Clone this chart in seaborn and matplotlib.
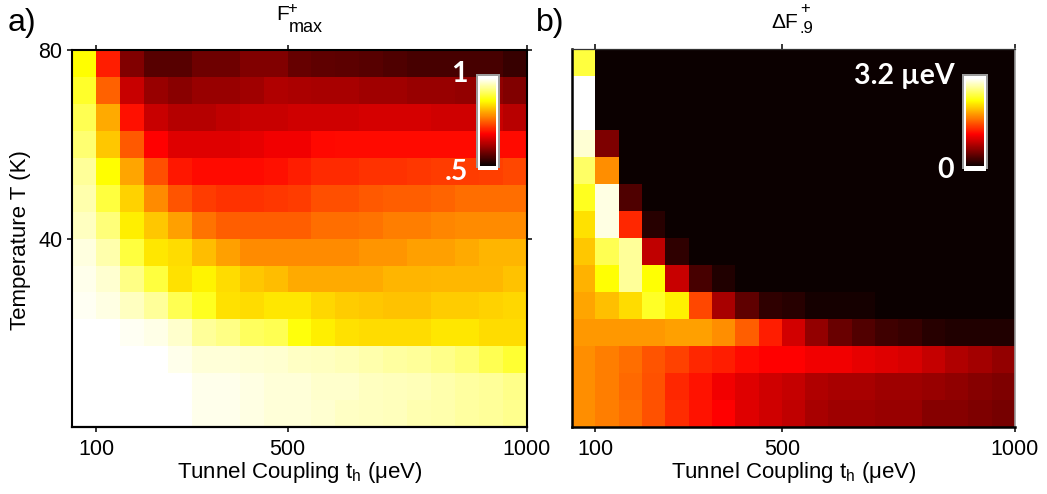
import numpy as np
import pandas as pd
import matplotlib
matplotlib.use("Agg")
import matplotlib.pyplot as plt
import seaborn as sns

# ---------------- data ----------------
coupling = [75, 125, 175, 225, 275, 325, 375, 425, 475, 525,
            575, 625, 675, 725, 775, 825, 875, 925, 975]          # t_h (ueV), cell centres
temperature = [77.1, 71.4, 65.7, 60.0, 54.3, 48.6, 42.9,
               37.1, 31.4, 25.7, 20.0, 14.3, 8.6, 2.9]             # T (K), cell centres
x_ticks = [100, 500, 1000]
y_ticks = [80, 40]

F_max = [
 [0.873, 0.705, 0.588, 0.558, 0.558, 0.576, 0.576, 0.588, 0.588, 0.570, 0.564, 0.561, 0.558, 0.552, 0.546, 0.546, 0.546, 0.546, 0.534],
 [0.893, 0.754, 0.642, 0.606, 0.594, 0.606, 0.606, 0.612, 0.624, 0.621, 0.618, 0.618, 0.612, 0.612, 0.606, 0.606, 0.603, 0.600, 0.588],
 [0.913, 0.809, 0.695, 0.642, 0.627, 0.627, 0.636, 0.642, 0.642, 0.648, 0.648, 0.648, 0.651, 0.651, 0.651, 0.648, 0.648, 0.642, 0.630],
 [0.928, 0.831, 0.749, 0.683, 0.660, 0.660, 0.660, 0.666, 0.672, 0.672, 0.688, 0.690, 0.690, 0.690, 0.690, 0.690, 0.690, 0.690, 0.690],
 [0.948, 0.873, 0.806, 0.742, 0.700, 0.690, 0.690, 0.690, 0.695, 0.705, 0.713, 0.713, 0.720, 0.720, 0.723, 0.727, 0.727, 0.730, 0.735],
 [0.958, 0.903, 0.839, 0.787, 0.746, 0.727, 0.720, 0.720, 0.723, 0.727, 0.742, 0.742, 0.749, 0.753, 0.753, 0.757, 0.764, 0.764, 0.764],
 [0.968, 0.933, 0.861, 0.831, 0.802, 0.768, 0.753, 0.753, 0.753, 0.753, 0.764, 0.764, 0.768, 0.776, 0.776, 0.783, 0.787, 0.787, 0.787],
 [0.983, 0.958, 0.903, 0.854, 0.846, 0.824, 0.802, 0.787, 0.787, 0.787, 0.787, 0.787, 0.794, 0.794, 0.802, 0.802, 0.809, 0.817, 0.817],
 [0.990, 0.975, 0.938, 0.903, 0.850, 0.865, 0.846, 0.831, 0.824, 0.809, 0.809, 0.809, 0.809, 0.817, 0.817, 0.820, 0.820, 0.820, 0.828],
 [0.993, 0.985, 0.968, 0.948, 0.913, 0.888, 0.850, 0.846, 0.854, 0.854, 0.843, 0.835, 0.831, 0.828, 0.828, 0.835, 0.835, 0.838, 0.843],
 [1.000, 1.000, 0.993, 0.988, 0.973, 0.948, 0.938, 0.918, 0.913, 0.878, 0.861, 0.850, 0.846, 0.846, 0.846, 0.854, 0.854, 0.846, 0.846],
 [1.000, 1.000, 1.000, 1.000, 0.990, 0.980, 0.980, 0.978, 0.975, 0.970, 0.968, 0.963, 0.958, 0.953, 0.948, 0.940, 0.930, 0.913, 0.898],
 [1.000, 1.000, 1.000, 1.000, 1.000, 0.990, 0.990, 0.985, 0.980, 0.980, 0.973, 0.973, 0.968, 0.965, 0.963, 0.958, 0.953, 0.948, 0.940],
 [1.000, 1.000, 1.000, 1.000, 1.000, 0.990, 0.990, 0.985, 0.980, 0.980, 0.975, 0.970, 0.968, 0.965, 0.960, 0.958, 0.953, 0.948, 0.943],
]

dF_09 = [
 [2.58, 0, 0, 0, 0, 0, 0, 0, 0, 0, 0, 0, 0, 0, 0, 0, 0, 0, 0],
 [3.20, 0, 0, 0, 0, 0, 0, 0, 0, 0, 0, 0, 0, 0, 0, 0, 0, 0, 0],
 [3.20, 0, 0, 0, 0, 0, 0, 0, 0, 0, 0, 0, 0, 0, 0, 0, 0, 0, 0],
 [3.06, 0.56, 0, 0, 0, 0, 0, 0, 0, 0, 0, 0, 0, 0, 0, 0, 0, 0, 0],
 [2.71, 1.84, 0, 0, 0, 0, 0, 0, 0, 0, 0, 0, 0, 0, 0, 0, 0, 0, 0],
 [2.48, 3.10, 0.33, 0, 0, 0, 0, 0, 0, 0, 0, 0, 0, 0, 0, 0, 0, 0, 0],
 [2.24, 3.10, 1.36, 0.14, 0, 0, 0, 0, 0, 0, 0, 0, 0, 0, 0, 0, 0, 0, 0],
 [2.12, 2.65, 2.87, 0.87, 0.18, 0, 0, 0, 0, 0, 0, 0, 0, 0, 0, 0, 0, 0, 0],
 [2.02, 2.39, 2.87, 2.39, 0.91, 0.29, 0.10, 0, 0, 0, 0, 0, 0, 0, 0, 0, 0, 0, 0],
 [1.96, 2.08, 2.22, 2.51, 2.32, 1.50, 0.75, 0.41, 0.18, 0.14, 0.06, 0.06, 0.06, 0, 0, 0, 0, 0, 0],
 [1.89, 1.89, 1.89, 1.89, 1.93, 1.93, 1.84, 1.62, 1.31, 0.96, 0.66, 0.45, 0.35, 0.26, 0.22, 0.14, 0.10, 0.10, 0.10],
 [1.84, 1.77, 1.69, 1.57, 1.48, 1.36, 1.31, 1.22, 1.17, 1.17, 1.10, 1.10, 1.06, 1.02, 0.98, 0.89, 0.79, 0.73, 0.66],
 [1.84, 1.77, 1.67, 1.55, 1.36, 1.26, 1.10, 1.02, 0.94, 0.89, 0.79, 0.75, 0.75, 0.71, 0.71, 0.68, 0.64, 0.60, 0.56],
 [1.84, 1.77, 1.69, 1.55, 1.38, 1.26, 1.17, 1.02, 0.94, 0.87, 0.75, 0.71, 0.71, 0.68, 0.68, 0.60, 0.60, 0.56, 0.52],
]

# ---------------- style ----------------
sns.set_style("white")
plt.rcParams["font.family"] = ["Liberation Sans", "DejaVu Sans"]
plt.rcParams["mathtext.fontset"] = "custom"
plt.rcParams["mathtext.rm"] = "Liberation Sans"
plt.rcParams["mathtext.it"] = "Liberation Sans:italic"
plt.rcParams["mathtext.bf"] = "Liberation Sans:bold"
for key in ["text.color", "axes.labelcolor", "xtick.color", "ytick.color"]:
    plt.rcParams[key] = "black"

W, H = 1047, 494
fig = plt.figure(figsize=(W / 100, H / 100), dpi=100)


def rect(x0, y0, x1, y1):
    return [x0 / W, 1 - y1 / H, (x1 - x0) / W, (y1 - y0) / H]


def ftext(x, y, s, **kw):
    return fig.text(x / W, 1 - y / H, s, **kw)


def x_pos(v):
    step = coupling[1] - coupling[0]
    return (v - coupling[0]) / step + 0.5


def y_pos(v):
    step = temperature[0] - temperature[1]
    return (temperature[0] - v) / step + 0.5


def make_cbar_axes(x0, y0, x1, y1):
    frame = fig.add_axes(rect(x0, y0, x1, y1 - 2))
    frame.set_facecolor("#9c9c9c")
    white = fig.add_axes(rect(x0 + 2, y0 + 2, x1 - 2, y1))
    white.set_facecolor("white")
    for a in (frame, white):
        a.set_xticks([]); a.set_yticks([])
        for s in a.spines.values():
            s.set_visible(False)
    cax = fig.add_axes(rect(x0 + 3.8, y0 + 4.3, x1 - 3.8, y1 - 4.3))
    return cax


def panel(ax, data, vmin, vmax, cax, left_labels, spine_style):
    df = pd.DataFrame(data, index=temperature, columns=coupling)
    sns.heatmap(df, ax=ax, cmap="hot", vmin=vmin, vmax=vmax, cbar=True,
                cbar_ax=cax, cbar_kws={"ticks": []}, linewidths=0,
                xticklabels=False, yticklabels=False)
    cb = ax.collections[0].colorbar
    cb.outline.set_visible(False)
    cax.tick_params(length=0)
    ax.set_xlabel(""); ax.set_ylabel("")
    ax.set_xticks([x_pos(v) for v in x_ticks])
    ax.set_xticklabels([str(v) for v in x_ticks])
    if left_labels:
        ax.set_yticks([y_pos(v) for v in y_ticks])
        ax.set_yticklabels([str(v) for v in y_ticks])
        ax.tick_params(axis="y", left=True, right=True, labelleft=True,
                       direction="out", length=3.6, width=1.1, pad=3.5,
                       labelsize=15.5, labelrotation=0, colors="black")
    else:
        ax.set_yticks([])
    ax.tick_params(axis="x", bottom=True, top=True, labelbottom=True,
                   labeltop=False, direction="out", length=3.6, width=1.1,
                   pad=5, labelsize=15.5, labelrotation=0, colors="black")
    for side, (col, lw) in spine_style.items():
        sp = ax.spines[side]
        sp.set_visible(True)
        sp.set_color(col)
        sp.set_linewidth(lw)


# ---------------- panel a ----------------
axA = fig.add_axes(rect(72, 50, 527, 427))
caxA = make_cbar_axes(475.7, 74, 500, 170)
panel(axA, F_max, 0.5, 1.0, caxA, True,
      {"left": ("black", 1.5), "bottom": ("black", 1.6),
       "top": ("black", 1.5), "right": ("black", 1.5)})

# ---------------- panel b ----------------
axB = fig.add_axes(rect(572, 49, 1015, 427))
caxB = make_cbar_axes(961.7, 74, 987.7, 170.7)
panel(axB, dF_09, 0.0, 3.2, caxB, False,
      {"left": ("black", 1.8), "bottom": ("black", 1.8),
       "top": ("#333333", 0.9), "right": ("#999999", 1.2)})

# ---------------- texts ----------------
ftext(8, 31, "a)", fontsize=23, va="baseline", ha="left")
ftext(536, 31, "b)", fontsize=23, va="baseline", ha="left")

# title a : F^+_max built from separate pieces
ftext(276, 20.5, "F", fontsize=15, ha="left", va="baseline")
ftext(287.5, 12.5, "+", fontsize=12, ha="left", va="baseline")
ftext(289, 32, "max", fontsize=13, ha="left", va="baseline")
# title b : ΔF^+_.9
ftext(771, 28, "ΔF", fontsize=15, ha="left", va="baseline")
ftext(800.5, 13, "+", fontsize=12, ha="left", va="baseline")
ftext(799.5, 33, ".9", fontsize=12, ha="left", va="baseline")

xlabel = r"Tunnel Coupling t$_\mathregular{h}$ ($\mathregular{\mu}$eV)"
ftext(299.5, 478, xlabel, fontsize=16, ha="center", va="baseline")
ftext(793.5, 478, xlabel, fontsize=16, ha="center", va="baseline")
ftext(21, 240, "Temperature T (K)", fontsize=16, rotation=90,
      ha="center", va="center")

cb_font = dict(color="white", fontweight="bold", fontsize=20.5,
               family=["Lato", "DejaVu Sans"], ha="right", va="center")
ftext(468, 74, "1", **cb_font)
ftext(468, 172, ".5", **cb_font)
ftext(955, 76, "3.2 µeV", **cb_font)
ftext(954, 170, "0", **cb_font)

fig.savefig("out.png", dpi=100)
